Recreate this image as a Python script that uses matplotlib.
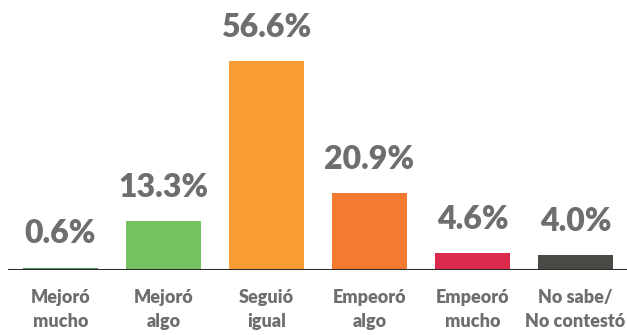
import matplotlib.pyplot as plt

categories = ["Mejoró\nmucho", "Mejoró\nalgo", "Seguió\nigual", "Empeoró\nalgo", "Empeoró\nmucho", "No sabe/\nNo contestó"]
values = [0.6, 13.3, 56.6, 20.9, 4.6, 4.0]
colors = ["#4a9262", "#74c162", "#f99c33", "#f47a2f", "#db2a4b", "#4a4946"]

text_color = "#6e6e6e"

fig = plt.figure(figsize=(6.27, 3.35), dpi=100)
ax = fig.add_axes([8 / 627, 65 / 335, 619 / 627, 258 / 335])

x = range(len(values))
bars = ax.bar(x, values, width=0.73, color=colors, zorder=2)

for b, v in zip(bars, values):
    ax.annotate(f"{v:.1f}%", (b.get_x() + b.get_width() / 2, b.get_height()),
                xytext=(0, 14), textcoords="offset points", ha="center", va="bottom",
                fontsize=23, fontweight="heavy", color=text_color, family="Lato")

ax.set_xlim(-0.51, 5.5)
ax.set_ylim(0, 70)
ax.axhline(0, color="#2b2b2b", lw=2.2, zorder=3)

for i, lab in enumerate(categories):
    ax.text(i, -0.075, lab, transform=ax.get_xaxis_transform(), ha="center", va="top",
            fontsize=13, fontweight="heavy", color=text_color, family="Lato",
            linespacing=1.5)

ax.axis("off")

plt.savefig("out.png", dpi=100)
